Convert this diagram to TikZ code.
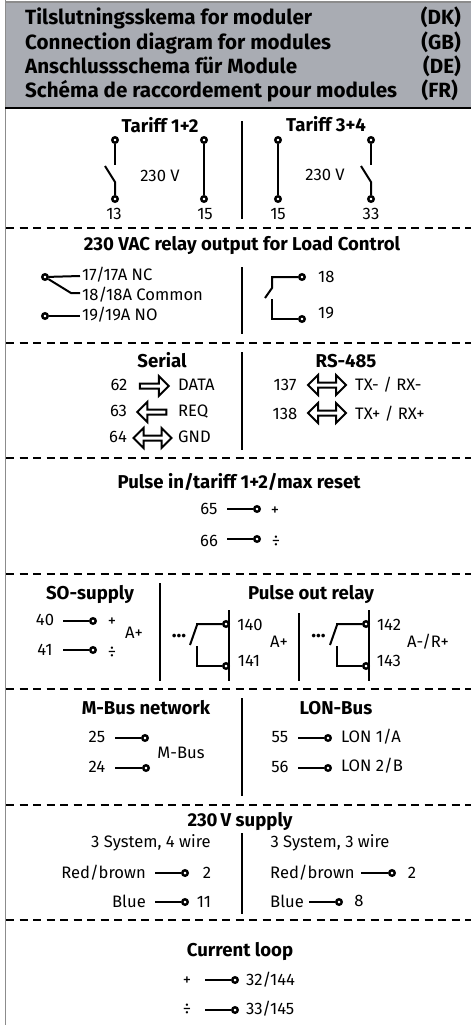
\documentclass[tikz,border=0pt]{standalone}
\usepackage{fontspec}
\setmainfont{Fira Sans}
\usetikzlibrary{shapes, shapes.arrows}
\definecolor{headgray}{HTML}{A9ACB3}
\definecolor{edgegray}{HTML}{8C8C8C}

\begin{document}
\begin{tikzpicture}[
    x=1pt, y=-1pt,
    title/.style={draw=none, fill=none, anchor=west, inner sep=0pt, text height=16pt, text depth=3pt, font=\fontsize{20.6}{21}\selectfont\bfseries, text=black},
    heading/.style={draw=none, fill=none, text centered, inner sep=0pt, text height=15pt, text depth=2pt, font=\fontsize{18.6}{20}\selectfont\bfseries, text=black},
    label/.style={draw=none, fill=none, text centered, inner sep=0pt, text height=13pt, text depth=2pt, font=\fontsize{16.6}{18}\selectfont, text=black},
    labelleft/.style={label, anchor=west},
    labelright/.style={label, anchor=east},
    terminal/.style={circle, draw=black, fill=white, line width=2.4pt, inner sep=0pt, minimum size=5.5pt},
    wire/.style={line width=2pt, black},
    divider/.style={line width=2pt, black},
    separator/.style={line width=2pt, black, dash pattern=on 8pt off 5.5pt},
    sendarrow/.style={single arrow, draw=black, fill=white, line width=2pt, inner sep=0pt,
        minimum width=20pt, minimum height=29pt, single arrow head extend=3pt},
    bothwayarrow/.style={double arrow, draw=black, fill=white, line width=2pt, inner sep=0pt,
        minimum width=20pt, double arrow head extend=3pt}
]
\useasboundingbox (0,0) rectangle (471,1025);

% header
\fill[headgray] (6,3) rectangle (471,108);
\draw[edgegray, line width=1.2pt] (5.5,0) -- (5.5,1025);
\draw[edgegray, line width=1.2pt] (5.5,2) -- (471,2);
\coordinate (HeadL) at (5,108);
\coordinate (HeadR) at (471,108);
\draw[line width=2.4pt] (HeadL) -- (HeadR);
\node (TitleDK) [title] at (25,18) {Tilslutningsskema for moduler};
\node (TitleGB) [title] at (25,43) {Connection diagram for modules};
\node (TitleDE) [title] at (25,67) {Anschlussschema für Module};
\node (TitleFR) [title] at (25,91) {Schéma de raccordement pour modules};
\node (CodeDK) [title, anchor=east] at (461,18) {(DK)};
\node (CodeGB) [title, anchor=east] at (461,43) {(GB)};
\node (CodeDE) [title, anchor=east] at (461,67) {(DE)};
\node (CodeFR) [title, anchor=east] at (458,91) {(FR)};

% separators
\coordinate (Sep1L) at (6,228); \coordinate (Sep1R) at (471,228);
\coordinate (Sep2L) at (6,343); \coordinate (Sep2R) at (471,343);
\coordinate (Sep3L) at (6,458); \coordinate (Sep3R) at (471,458);
\coordinate (Sep4L) at (6,574); \coordinate (Sep4R) at (471,574);
\coordinate (Sep5L) at (6,689); \coordinate (Sep5R) at (471,689);
\coordinate (Sep6L) at (6,805); \coordinate (Sep6R) at (471,805);
\coordinate (Sep7L) at (6,920); \coordinate (Sep7R) at (471,920);
\draw[separator] (Sep1L) -- (Sep1R);
\draw[separator] (Sep2L) -- (Sep2R);
\draw[separator] (Sep3L) -- (Sep3R);
\draw[separator] (Sep4L) -- (Sep4R);
\draw[separator] (Sep5L) -- (Sep5R);
\draw[separator] (Sep6L) -- (Sep6R);
\draw[separator] (Sep7L) -- (Sep7R);

% tariff
\node (HTariffA) [heading] at (160,126) {Tariff 1+2};
\node (HTariffB) [heading] at (326,125) {Tariff 3+4};
\coordinate (DivTopA) at (242,121); \coordinate (DivBotA) at (242,219);
\draw[divider] (DivTopA) -- (DivBotA);
\node (T13a) [terminal] at (115,140) {};
\node (T13b) [terminal] at (115,199) {};
\node (T15a) [terminal] at (204,140) {};
\node (T15b) [terminal] at (204,199) {};
\node (T15c) [terminal] at (278,140) {};
\node (T15d) [terminal] at (278,199) {};
\node (T33a) [terminal] at (371,140) {};
\node (T33b) [terminal] at (371,199) {};
\coordinate (Sw13a) at (115,165); \coordinate (Sw13b) at (105,166); \coordinate (Sw13c) at (115,182);
\coordinate (Sw33a) at (371,165); \coordinate (Sw33b) at (361,166); \coordinate (Sw33c) at (371,182);
\draw[wire] (T13a) -- (Sw13a);
\draw[wire] (T13b) -- (Sw13c) -- (Sw13b);
\draw[wire] (T15a) -- (T15b);
\draw[wire] (T15c) -- (T15d);
\draw[wire] (T33a) -- (Sw33a);
\draw[wire] (T33b) -- (Sw33c) -- (Sw33b);
\node (L230a) [label] at (160,176) {230 V};
\node (L230b) [label] at (325,175) {230 V};
\node (L13) [label] at (114,214) {13};
\node (L15a) [label] at (205,214) {15};
\node (L15b) [label] at (278,214) {15};
\node (L33) [label] at (371,214) {33};

% relay output
\node (HRelay) [heading] at (242,244) {230 VAC relay output for Load Control};
\coordinate (DivTopB) at (242,267); \coordinate (DivBotB) at (242,334);
\draw[divider] (DivTopB) -- (DivBotB);
\node (TNC) [terminal] at (45,277) {};
\node (TNO) [terminal] at (45,316) {};
\coordinate (NCend) at (80,276); \coordinate (NOend) at (80,316);
\coordinate (ComBend) at (71,293); \coordinate (ComEnd) at (80,293);
\draw[wire] (TNC) -- (NCend);
\draw[wire] (TNC) -- (ComBend) -- (ComEnd);
\draw[wire] (TNO) -- (NOend);
\node (LNC) [labelleft] at (82,275) {17/17A NC};
\node (LCom) [labelleft] at (82,295) {18/18A Common};
\node (LNO) [labelleft] at (82,315) {19/19A NO};
\node (T18) [terminal] at (302,277) {};
\node (T19) [terminal] at (302,319) {};
\coordinate (R18a) at (272,277); \coordinate (R18b) at (272,288); \coordinate (R18c) at (265,298);
\coordinate (R19a) at (272,299); \coordinate (R19b) at (272,319);
\draw[wire] (T18) -- (R18a) -- (R18b) -- (R18c);
\draw[wire] (T19) -- (R19b) -- (R19a);
\node (L18) [labelleft] at (318,277) {18};
\node (L19) [labelleft] at (318,313) {19};

% serial and rs-485
\node (HSerial) [heading] at (162,361) {Serial};
\node (HRS) [heading] at (346,361) {RS-485};
\coordinate (DivTopC) at (242,352); \coordinate (DivBotC) at (242,450);
\draw[divider] (DivTopC) -- (DivBotC);
\node (L62) [label] at (119,385) {62};
\node (L63) [label] at (118.5,411) {63};
\node (L64) [label] at (118,437) {64};
\node (ADATA) [sendarrow] at (153,386) {};
\node (AREQ) [sendarrow, shape border rotate=180] at (153,412) {};
\node (AGND) [bothwayarrow, minimum height=38pt] at (152.5,438) {};
\node (LDATA) [labelleft] at (178,385) {DATA};
\node (LREQ) [labelleft] at (178,411) {REQ};
\node (LGND) [labelleft] at (178,437) {GND};
\node (L137) [label] at (285,385) {137};
\node (L138) [label] at (285,414) {138};
\node (ATX) [bothwayarrow, minimum height=38pt] at (327,385) {};
\node (ARX) [bothwayarrow, minimum height=38pt] at (327,413) {};
\node (LTX) [labelleft] at (355,385) {TX- / RX-};
\node (LRX) [labelleft] at (355,414) {TX+ / RX+};

% pulse in
\node (HPulse) [heading] at (239,482) {Pulse in/tariff 1+2/max reset};
\coordinate (P65) at (227,509); \coordinate (P66) at (227,539);
\node (T65) [terminal] at (257,509) {};
\node (T66) [terminal] at (257,539) {};
\draw[wire] (P65) -- (T65);
\draw[wire] (P66) -- (T66);
\node (L65) [label] at (209,509) {65};
\node (L66) [label] at (209,541) {66};
\node (LPlusA) [label] at (275,510) {+};
\node (LMinA) [label] at (276,541) {÷};

% so-supply and pulse out relay
\node (HSO) [heading] at (90,593) {SO-supply};
\node (HOut) [heading] at (311,593) {Pulse out relay};
\coordinate (DivTopD) at (160,583); \coordinate (DivBotD) at (160,681);
\coordinate (DivTopE) at (299,613); \coordinate (DivBotE) at (299,681);
\draw[divider] (DivTopD) -- (DivBotD);
\draw[divider] (DivTopE) -- (DivBotE);
\node (L40) [label] at (45,620) {40};
\node (L41) [label] at (45,650) {41};
\coordinate (P40) at (63,621); \coordinate (P41) at (63,650);
\node (T40) [terminal] at (93,621) {};
\node (T41) [terminal] at (93,650) {};
\draw[wire] (P40) -- (T40);
\draw[wire] (P41) -- (T41);
\node (LPlusB) [label] at (112,621) {+};
\node (LMinB) [label] at (112,652) {÷};
\node (LAa) [label] at (134,633) {A+};
% first relay
\node (DotsA) [label, font=\fontsize{20}{20}\selectfont\bfseries] at (179,632) {...};
\node (T140) [terminal] at (226,624) {};
\node (T141) [terminal] at (226,666) {};
\coordinate (RaArm) at (190,645); \coordinate (RaTop) at (197,625); \coordinate (RaCor) at (197,624);
\coordinate (RaLow) at (197,646); \coordinate (RaBot) at (197,666);
\coordinate (BarTopA) at (229,610); \coordinate (BarBotA) at (229,681);
\draw[divider] (BarTopA) -- (BarBotA);
\draw[wire] (T140) -- (RaCor) -- (RaTop) -- (RaArm);
\draw[wire] (T141) -- (RaBot) -- (RaLow);
\node (L140) [label] at (250,625) {140};
\node (L141) [label] at (249,661) {141};
\node (LAb) [label] at (279,642) {A+};
% second relay
\node (DotsB) [label, font=\fontsize{20}{20}\selectfont\bfseries] at (318.5,632) {...};
\node (T142) [terminal] at (366,624) {};
\node (T143) [terminal] at (366,666) {};
\coordinate (RbArm) at (330,645); \coordinate (RbTop) at (337,625); \coordinate (RbCor) at (337,624);
\coordinate (RbLow) at (337,646); \coordinate (RbBot) at (337,666);
\coordinate (BarTopB) at (369,610); \coordinate (BarBotB) at (369,681);
\draw[divider] (BarTopB) -- (BarBotB);
\draw[wire] (T142) -- (RbCor) -- (RbTop) -- (RbArm);
\draw[wire] (T143) -- (RbBot) -- (RbLow);
\node (L142) [label] at (389,625) {142};
\node (L143) [label] at (389,661) {143};
\node (LAc) [label] at (428,642) {A-/R+};

% m-bus and lon
\node (HMBus) [heading] at (146,708) {M-Bus network};
\node (HLON) [heading] at (336,708) {LON-Bus};
\coordinate (DivTopF) at (242,698); \coordinate (DivBotF) at (242,796);
\draw[divider] (DivTopF) -- (DivBotF);
\node (L25) [label] at (97,737) {25};
\node (L24) [label] at (97,767) {24};
\coordinate (P25) at (115,738); \coordinate (P24) at (115,768);
\node (T25) [terminal] at (145,738) {};
\node (T24) [terminal] at (146,768) {};
\draw[wire] (P25) -- (T25);
\draw[wire] (P24) -- (T24);
\node (LMBus) [label] at (181,753) {M-Bus};
\node (L55) [label] at (280,737) {55};
\node (L56) [label] at (280,767) {56};
\coordinate (P55) at (298,738); \coordinate (P56) at (298,768);
\node (T55) [terminal] at (328,738) {};
\node (T56) [terminal] at (328,768) {};
\draw[wire] (P55) -- (T55);
\draw[wire] (P56) -- (T56);
\node (LLONa) [labelleft] at (341,737) {LON 1/A};
\node (LLONb) [labelleft] at (341,766) {LON 2/B};

% supply
\node (HSupply) [heading] at (240,820) {230\,V supply};
\coordinate (DivTopG) at (242,833); \coordinate (DivBotG) at (242,914);
\draw[divider] (DivTopG) -- (DivBotG);
\node (LSysA) [label] at (151,842) {3 System, 4 wire};
\node (LSysB) [label] at (330,842) {3 System, 3 wire};
\node (LRedA) [labelright] at (146,873) {Red/brown};
\node (LBlueA) [labelright] at (146,902) {Blue};
\coordinate (PRedA) at (155,873); \coordinate (PBlueA) at (155,902);
\node (TRedA) [terminal] at (185,873) {};
\node (TBlueA) [terminal] at (185,902) {};
\draw[wire] (PRedA) -- (TRedA);
\draw[wire] (PBlueA) -- (TBlueA);
\node (L2a) [label] at (207,873) {2};
\node (L11) [label] at (204,902) {11};
\node (LRedB) [labelleft] at (270,873) {Red/brown};
\node (LBlueB) [labelleft] at (270,902) {Blue};
\coordinate (PRedB) at (361,873); \coordinate (PBlueB) at (309,902);
\node (TRedB) [terminal] at (392,873) {};
\node (TBlueB) [terminal] at (339,902) {};
\draw[wire] (PRedB) -- (TRedB);
\draw[wire] (PBlueB) -- (TBlueB);
\node (L2b) [label] at (412,873) {2};
\node (L8) [label] at (359,901) {8};

% current loop
\node (HLoop) [heading] at (240,950) {Current loop};
\coordinate (PLoopA) at (205,980); \coordinate (PLoopB) at (205,1010);
\node (TLoopA) [terminal] at (235,980) {};
\node (TLoopB) [terminal] at (235,1010) {};
\draw[wire] (PLoopA) -- (TLoopA);
\draw[wire] (PLoopB) -- (TLoopB);
\node (LPlusC) [label] at (187,980) {+};
\node (LMinC) [label] at (187,1009) {÷};
\node (L32) [labelleft] at (246,980) {32/144};
\node (L33b) [labelleft] at (246,1009) {33/145};

\end{tikzpicture}
\end{document}
